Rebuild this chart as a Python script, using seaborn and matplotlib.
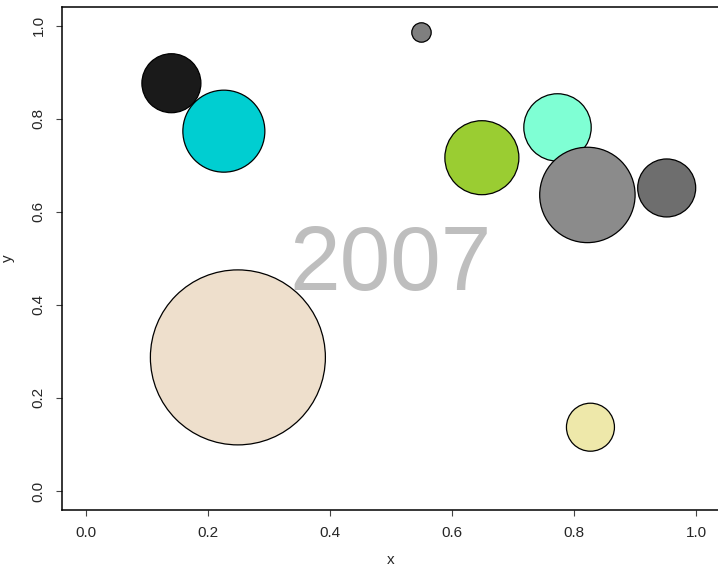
import matplotlib
matplotlib.use("Agg")
import matplotlib.pyplot as plt
import numpy as np
import pandas as pd
import seaborn as sns

# Bubble data (x, y in data units, radius in pixels)
names = ["a", "b", "c", "d", "e", "f", "g", "h", "i"]
x_vals = [0.140, 0.226, 0.550, 0.649, 0.773, 0.822, 0.952, 0.249, 0.827]
y_vals = [0.876, 0.773, 0.985, 0.716, 0.781, 0.636, 0.651, 0.287, 0.137]
radius = [29.5, 41.0, 9.7, 37.0, 33.7, 47.7, 29.0, 87.5, 24.0]
colors = ["#1A1A1A", "#00CED1", "#7F7F7F", "#9ACD32", "#7FFFD4",
          "#8B8B8B", "#6E6E6E", "#EEDFCC", "#EEE8AA"]
year_label = "2007"
tick_vals = [0.0, 0.2, 0.4, 0.6, 0.8, 1.0]

DPI = 100
df = pd.DataFrame({"name": names, "x": x_vals, "y": y_vals, "r": radius})
df["area"] = df["r"] ** 2
# marker size in pt^2 from pixel radius
to_s = lambda a: a * (2 * 72 / DPI) ** 2

sns.set_style("white")
plt.rcParams["font.family"] = ["Liberation Sans", "DejaVu Sans"]

fig = plt.figure(figsize=(7.18, 5.69), dpi=DPI)
ax = fig.add_axes([0.0858, 0.1044, 0.9175, 0.8835])

ax.text(0.5, 0.432, year_label, color="#BEBEBE", fontsize=65.5,
        ha="center", va="baseline", zorder=0)

sns.scatterplot(
    data=df, x="x", y="y", hue="name", palette=colors,
    size="area", sizes=(to_s(df["area"].min()), to_s(df["area"].max())),
    edgecolor="black", linewidth=0.9, alpha=1, legend=False, ax=ax, zorder=2,
)

ax.set_xlim(-0.04, 1.04)
ax.set_ylim(-0.04, 1.04)
ax.set_xticks(tick_vals)
ax.set_yticks(tick_vals)
ax.set_xticklabels([f"{v:.1f}" for v in tick_vals], fontsize=11)
ax.set_yticklabels([f"{v:.1f}" for v in tick_vals], fontsize=11,
                   rotation=90, va="center")
ax.tick_params(axis="both", direction="out", length=4.5, width=0.8,
               color="#444444", pad=7, left=True, bottom=True)
ax.set_xlabel("x", fontsize=11, labelpad=10)
ax.set_ylabel("y", fontsize=11, labelpad=12)
for sp in ax.spines.values():
    sp.set_color("black")
    sp.set_linewidth(1.1)
ax.grid(False)

fig.savefig("out.png", dpi=DPI)
